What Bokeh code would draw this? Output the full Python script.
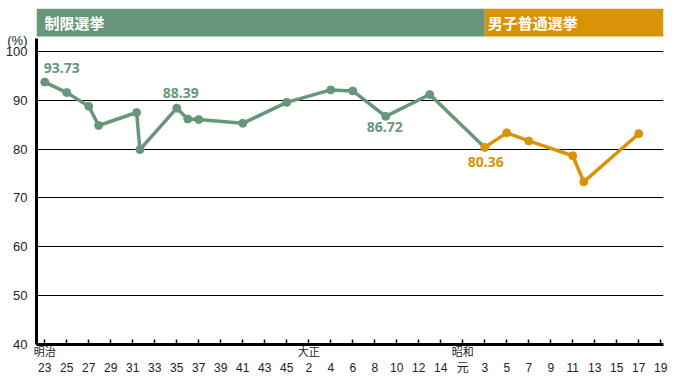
from bokeh.plotting import figure
from bokeh.models import ColumnDataSource, FixedTicker, Range1d, LinearAxis
from bokeh.core.properties import value
from bokeh.embed import file_html
from bokeh.resources import INLINE

# ---- data ----
eras = ["明治"] * 11 + ["大正"] * 4 + ["昭和"] * 6
era_years = [23, 25, 27, 27.9, 31.35, 31.65, 35, 36, 37, 41, 45,
             4, 6, 9, 13,
             3, 5, 7, 11, 12, 17]
turnout = [93.73, 91.59, 88.76, 84.84, 87.50, 79.91, 88.39, 86.17, 86.06, 85.29, 89.58,
           92.13, 91.92, 86.72, 91.18,
           80.36, 83.34, 81.68, 78.65, 73.31, 83.16]
suffrage = ["制限選挙"] * 15 + ["男子普通選挙"] * 6
labelled = [0, 6, 13, 15]          # elections whose value is printed

tick_eras = ["明治"] * 12 + ["大正"] * 7 + ["昭和"] * 10
tick_years = list(range(23, 46, 2)) + list(range(2, 15, 2)) + [1] + list(range(3, 20, 2))
tick_labels = [("元" if (e == "昭和" and y == 1) else str(y)) for e, y in zip(tick_eras, tick_years)]
era_names = ["明治", "大正", "昭和"]
y_ticks = [40, 50, 60, 70, 80, 90, 100]
unit_label = "(%)"

# ---- axis scale: era year -> position (2 era-years per tick step) ----
era_first = {"明治": 23, "大正": 2, "昭和": 1}
era_pos0 = {"明治": 0, "大正": 24, "昭和": 38}


def pos(era, yr):
    return era_pos0[era] + (yr - era_first[era])


xs = [pos(e, y) for e, y in zip(eras, era_years)]
tick_pos = [pos(e, y) for e, y in zip(tick_eras, tick_years)]

GREEN = "#67977B"
ORANGE = "#DA9306"
TXT = "#222222"
CJK = "Noto Sans CJK JP"
NUM = "Liberation Sans"
MIX = "'Liberation Sans', 'Noto Sans CJK JP'"

X0, X1 = -0.75, 56.25
Y0, Y1 = 40, 108.8
HEAD_BOTTOM = 103.07
AXIS_TOP = 102.66
UNIT_Y = 102.2

p = figure(width=676, height=377, output_backend="svg", toolbar_location=None,
           x_range=Range1d(X0, X1), y_range=Range1d(Y0, Y1),
           min_border_left=36, min_border_right=13, min_border_top=8, min_border_bottom=33)
p.outline_line_color = None
p.background_fill_color = "white"
p.border_fill_color = "white"

# y axis (with the unit shown as an extra top label)
p.yaxis.ticker = FixedTicker(ticks=y_ticks + [UNIT_Y])
p.yaxis.major_label_overrides = {UNIT_Y: unit_label}
p.yaxis.bounds = (Y0, AXIS_TOP)
p.yaxis.axis_line_width = 3
p.yaxis.axis_line_color = "black"
p.yaxis.major_tick_line_color = None
p.yaxis.minor_tick_line_color = None
p.yaxis.major_label_standoff = 3
p.yaxis.major_label_text_font = NUM
p.yaxis.major_label_text_font_size = "13px"
p.yaxis.major_label_text_color = TXT

p.ygrid.ticker = FixedTicker(ticks=y_ticks)
p.ygrid.grid_line_color = "black"
p.ygrid.grid_line_width = 1.2
p.xgrid.grid_line_color = None

# x axis: inner axis carries line, ticks and era names
era_tick_pos = [era_pos0[e] for e in era_names]
p.xaxis.ticker = FixedTicker(ticks=tick_pos)
p.xaxis.major_label_overrides = {t: (era_names[era_tick_pos.index(t)] if t in era_tick_pos else "")
                                 for t in tick_pos}
p.xaxis.axis_line_width = 3
p.xaxis.axis_line_color = "black"
p.xaxis.major_tick_in = 5
p.xaxis.major_tick_out = 0
p.xaxis.major_tick_line_width = 1.5
p.xaxis.minor_tick_line_color = None
p.xaxis.major_label_standoff = 1
p.xaxis.major_label_text_font = MIX
p.xaxis.major_label_text_font_size = "11px"
p.xaxis.major_label_text_color = TXT

# outer axis: era-year numbers
ax2 = LinearAxis(ticker=FixedTicker(ticks=tick_pos),
                 major_label_overrides={t: l for t, l in zip(tick_pos, tick_labels)})
ax2.axis_line_color = None
ax2.major_tick_line_color = None
ax2.minor_tick_line_color = None
ax2.major_tick_in = 0
ax2.major_tick_out = 0
ax2.major_label_standoff = 0
ax2.major_label_text_font = MIX
ax2.major_label_text_font_size = "12px"
ax2.major_label_text_color = TXT
p.add_layout(ax2, "below")

# header bands
split = xs[suffrage.index("男子普通選挙")]
p.quad(left=[X0, split], right=[split, X1], top=[Y1, Y1], bottom=[HEAD_BOTTOM, HEAD_BOTTOM],
       fill_color=[GREEN, ORANGE], line_color=None)
head_names = ["制限選挙", "男子普通選挙"]
p.text(x=[X0, split], y=[105.9, 105.9], text=head_names, x_offset=[8, 3],
       text_font=value(CJK), text_font_size="15px", text_font_style="bold",
       text_color="white", text_baseline="middle", text_align="left")

# lines and markers
n_lim = suffrage.count("制限選挙")
src_g_line = ColumnDataSource(dict(x=xs[:n_lim + 1], y=turnout[:n_lim + 1]))
src_g = ColumnDataSource(dict(x=xs[:n_lim], y=turnout[:n_lim]))
src_o = ColumnDataSource(dict(x=xs[n_lim:], y=turnout[n_lim:]))
p.line("x", "y", source=src_g_line, line_color=GREEN, line_width=3.5)
p.scatter("x", "y", source=src_g, size=8, fill_color=GREEN, line_color=GREEN)
p.line("x", "y", source=src_o, line_color=ORANGE, line_width=3.5)
p.scatter("x", "y", source=src_o, size=8, fill_color=ORANGE, line_color=ORANGE)

# value labels
lab_dx = [17, 4, -1, 1]
lab_dy = [-14, -15, 11, 15]
lab_src = ColumnDataSource(dict(
    x=[xs[i] for i in labelled], y=[turnout[i] for i in labelled],
    t=[f"{turnout[i]:.2f}" for i in labelled],
    c=[GREEN if suffrage[i] == "制限選挙" else ORANGE for i in labelled],
    dx=lab_dx, dy=lab_dy))
p.text("x", "y", text="t", source=lab_src, x_offset="dx", y_offset="dy",
       text_color="c", text_font=value("Noto Sans"), text_font_size="14px",
       text_font_style="bold", text_align="center", text_baseline="middle")

open("out.html", "w").write(file_html(p, INLINE))
